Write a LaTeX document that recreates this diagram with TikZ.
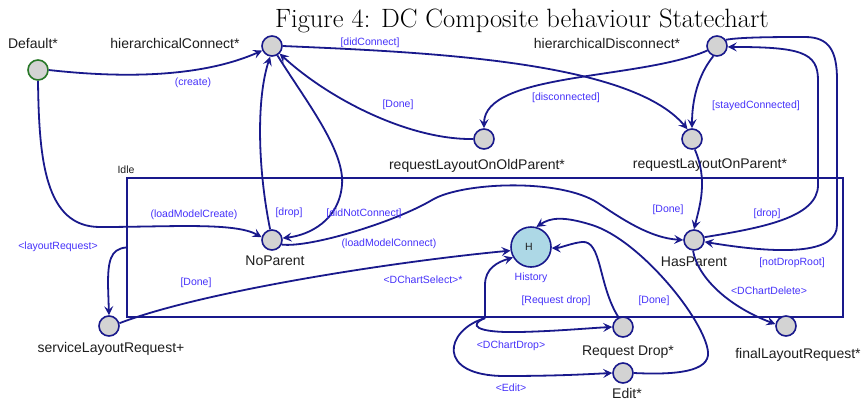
\documentclass[tikz,border=0pt]{standalone}
\usepackage{fontspec}
\newfontfamily\labfont{Liberation Sans}
\usetikzlibrary{arrows.meta}
\definecolor{navyc}{RGB}{25,25,140}
\definecolor{stgray}{RGB}{211,211,211}
\definecolor{histc}{RGB}{173,216,230}
\definecolor{greenc}{RGB}{40,120,40}
\definecolor{guardc}{RGB}{70,50,250}
\definecolor{labc}{RGB}{30,30,30}
\begin{document}
\begin{tikzpicture}[x=1pt,y=-1pt,
  st/.style={circle,draw=navyc,fill=stgray,line width=1.6pt,minimum size=20pt,inner sep=0pt},
  tr/.style={draw=navyc,line width=1.8pt,-{Stealth[length=9pt,width=9pt,inset=3.5pt]}},
  gl/.style={text=guardc,font=\labfont\fontsize{10.5}{12}\selectfont,inner sep=0pt,anchor=base},
  nl/.style={text=labc,font=\labfont\fontsize{14}{16}\selectfont,inner sep=0pt,anchor=base},
  sl/.style={text=labc,font=\labfont\fontsize{10.5}{12}\selectfont,inner sep=0pt,anchor=base}]
\useasboundingbox (0,0) rectangle (861,402);
\fill[white] (0,0) rectangle (861,402);
% title
\node[font=\fontsize{26.5}{30}\selectfont,anchor=base,inner sep=0pt] (title) at (522,27) {Figure 4: DC Composite behaviour Statechart};
% Idle superstate
\node[draw=navyc,line width=2.2pt,minimum width=716pt,minimum height=139pt,inner sep=0pt] (idle) at (485,247.5) {};
\node[sl] (idlel) at (126,173) {Idle};
% states
\node[st,draw=greenc] (def) at (38,70) {};
\node[st] (hc) at (272,46) {};
\node[st] (hd) at (717,46) {};
\node[st] (rloop) at (484,139) {};
\node[st] (rlop) at (692,139) {};
\node[st] (np) at (272,240) {};
\node[st] (hp) at (694,240) {};
\node[st] (slr) at (109,326) {};
\node[st] (rd) at (623,327) {};
\node[st] (flr) at (786,326) {};
\node[st] (ed) at (623,373) {};
\node[circle,draw=navyc,fill=histc,line width=1.6pt,minimum size=40pt,inner sep=0pt] (hist) at (531,247) {};
\node[sl] (histh) at (529,250) {H};
% state names
\node[nl] (l1) at (33,48) {Default*};
\node[nl] (l2) at (175,48) {hierarchicalConnect*};
\node[nl] (l3) at (607,48) {hierarchicalDisconnect*};
\node[nl] (l4) at (477,169) {requestLayoutOnOldParent*};
\node[nl] (l5) at (710,168) {requestLayoutOnParent*};
\node[nl] (l6) at (275,265) {NoParent};
\node[nl] (l7) at (694,266) {HasParent};
\node[nl] (l8) at (111,352) {serviceLayoutRequest+};
\node[nl] (l9) at (628,355) {Request Drop*};
\node[nl] (l10) at (798,358) {finalLayoutRequest*};
\node[nl] (l11) at (627,398) {Edit*};
% transitions
\draw[tr] (def.east) .. controls (120,78) and (200,78) .. (hc.205);
\draw[tr] (def.south) .. controls (39,160) and (45,227) .. (100,227) .. controls (170,227) and (235,222) .. (np.165);
\draw[tr] (hc.east) .. controls (420,52) and (630,60) .. (rlop.115);
\draw[tr] (rloop.west) .. controls (410,140) and (330,100) .. (hc.-45);
\draw[tr] (hd.205) .. controls (640,80) and (484,72) .. (rloop.north);
\draw[tr] (hd.250) .. controls (698,75) and (692,100) .. (rlop.north);
\draw[tr] (rlop.-75) .. controls (708,180) and (700,205) .. (hp.north);
\draw[tr] (hp.15) .. controls (760,228) and (818,218) .. (818,185) -- (818,80) .. controls (818,52) and (800,47) .. (hd.-5);
\draw[tr] (hd.35) .. controls (740,37) and (780,37) .. (805,37) .. controls (830,37) and (837,52) .. (837,80) -- (837,225) .. controls (837,252) and (790,256) .. (hp.-10);
\draw[tr] (hp.-95) .. controls (697,275) and (725,305) .. (flr.170);
\draw[tr] (np.-25) .. controls (310,248) and (395,222) .. (432,200) .. controls (462,182) and (560,178) .. (598,203) .. controls (622,219) and (650,238) .. (hp.west);
\draw[tr] (hc.-60) .. controls (305,100) and (345,150) .. (342,185) .. controls (339,220) and (310,235) .. (np.10);
\draw[tr] (np.100) .. controls (258,170) and (256,100) .. (hc.-100);
\draw[tr] (idle.west) .. controls (110,249) and (108,262) .. (108,285) -- (slr.north);
\draw[tr] (slr.15) .. controls (200,292) and (390,262) .. (hist.190);
\draw[tr] (idle.south) -- (485,285) .. controls (485,268) and (498,262) .. (hist.210);
\draw[tr] (idle.south) .. controls (468,325) and (475,333) .. (520,332) .. controls (560,331) and (590,328) .. (rd.west);
\draw[tr] (idle.south) .. controls (445,330) and (435,376) .. (505,376) .. controls (560,376) and (590,374) .. (ed.west);
\draw[tr] (rd.115) .. controls (598,285) and (602,240) .. (582,242) .. controls (572,243) and (560,248) .. (hist.-3);
\draw[tr] (ed.east) .. controls (675,375) and (710,372) .. (708,352) .. controls (704.8,320) and (640,240) .. (592,225) .. controls (562,215.6) and (550,218) .. (hist.75);
% guards / events
\node[gl] (g1) at (193,85.5) {(create)};
\node[gl] (g2) at (370,45.5) {[didConnect]};
\node[gl] (g3) at (398,107.5) {[Done]};
\node[gl] (g4) at (566,100.5) {[disconnected]};
\node[gl] (g5) at (756,108.5) {[stayedConnected]};
\node[gl] (g6) at (194,217.5) {(loadModelCreate)};
\node[gl] (g7) at (289,215.5) {[drop]};
\node[gl] (g8) at (364,216.5) {[didNotConnect]};
\node[gl] (g9) at (389,246.5) {(loadModelConnect)};
\node[gl] (g10) at (58,249.5) {<layoutRequest>};
\node[gl] (g11) at (196,285.5) {[Done]};
\node[gl] (g12) at (423,283.5) {<DChartSelect>*};
\node[gl] (g13) at (531,280.5) {History};
\node[gl] (g14) at (556,303.5) {[Request drop]};
\node[gl] (g15) at (654,303.5) {[Done]};
\node[gl] (g16) at (668,212.5) {[Done]};
\node[gl] (g17) at (767,216.5) {[drop]};
\node[gl] (g18) at (792,265.5) {[notDropRoot]};
\node[gl] (g19) at (769,294.5) {<DChartDelete>};
\node[gl] (g20) at (511,348.5) {<DChartDrop>};
\node[gl] (g21) at (511,391.5) {<Edit>};
\end{tikzpicture}
\end{document}
